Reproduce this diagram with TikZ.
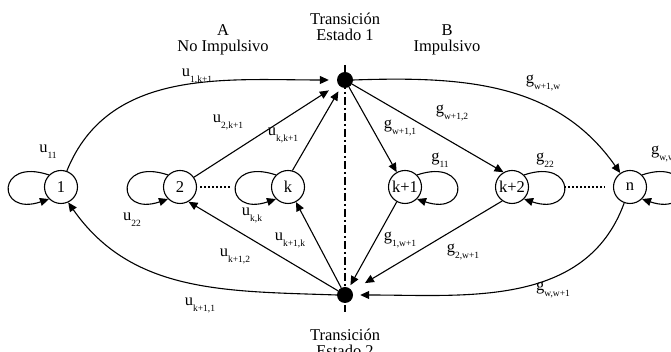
\documentclass[tikz,border=0pt]{standalone}
\usepackage{fontspec}
\setmainfont{Liberation Serif}
\usetikzlibrary{arrows.meta}
\newcommand{\lbl}[2]{#1\raisebox{-6pt}{\fontsize{9.5}{10}\selectfont #2}}

\begin{document}
\begin{tikzpicture}[x=1pt,y=1pt,font=\fontsize{16.5}{16}\selectfont,
  st/.style={draw,circle,line width=1.1pt,minimum size=33pt,inner sep=0pt},
  dot/.style={fill,circle,minimum size=16pt,inner sep=0pt},
  arr/.style={-{Triangle[length=9pt,width=8pt]},line width=1.1pt},
  lab/.style={inner sep=0pt}]
\useasboundingbox (0,0) rectangle (671,352);
% headings
\node[align=center] (h1) at (345,325) {Transición\\Estado 1};
\node[align=center] (ha) at (223,312) {A\\No Impulsivo};
\node[align=center] (hb) at (447,312) {B\\Impulsivo};
\node[align=center] (h2) at (345,9) {Transición\\Estado 2};
% axis
\coordinate (axtop) at (345,287);
\coordinate (axbot) at (345,40);
\draw[line width=1.1pt,dash pattern=on 8pt off 3pt on 2pt off 3pt] (axtop) -- (axbot);
% states
\node[st] (n1) at (61,165) {1};
\node[st] (n2) at (180,165) {2};
\node[st] (nk) at (288,165) {k};
\node[st] (nk1) at (405,165) {k+1};
\node[st] (nk2) at (512,165) {k+2};
\node[st] (nn) at (630,165) {n};
\node[dot] (t1) at (345,272) {};
\node[dot] (t2) at (345,57) {};
\draw[line width=1.1pt,dash pattern=on 2pt off 2pt,shorten <=3pt,shorten >=41pt] (n2.east) -- (nk.west);
\draw[line width=1.1pt,dash pattern=on 2pt off 2pt,shorten <=35pt,shorten >=8pt] (nk2.east) -- (nn.west);
% self loops
\draw[arr] (n1.135) .. controls +(-53,18) and +(-53,-18) .. (n1.225);
\draw[arr] (n2.135) .. controls +(-53,18) and +(-53,-18) .. (n2.225);
\draw[arr] (nk.135) .. controls +(-53,18) and +(-53,-18) .. (nk.225);
\draw[arr] (nk1.45) .. controls +(53,18) and +(53,-18) .. (nk1.-45);
\draw[arr] (nk2.45) .. controls +(53,18) and +(53,-18) .. (nk2.-45);
\draw[arr] (nn.45) .. controls +(53,18) and +(53,-18) .. (nn.-45);
\node[lab] (l11) at (48,200) {\lbl{u}{11}};
\node[lab] (l22) at (132,132) {\lbl{u}{22}};
\node[lab] (lkk) at (252,137) {\lbl{u}{k,k}};
\node[lab] (g11) at (440,192) {\lbl{g}{11}};
\node[lab] (g22) at (545,192) {\lbl{g}{22}};
\node[lab,anchor=west] (gww) at (651,198) {\lbl{g}{w,w}};
% A -> transicion 1
\draw[arr,shorten >=8pt] (n1.70) to[out=68,in=180] (t1.west);
\draw[arr,shorten >=11pt] (n2.35) -- (t1);
\draw[arr,shorten >=5pt] (nk.75) -- (t1);
\node[lab] (l1k) at (197,276) {\lbl{u}{1,k+1}};
\node[lab] (l2k) at (228,230) {\lbl{u}{2,k+1}};
\node[lab] (lkk1) at (283,217) {\lbl{u}{k,k+1}};
% transicion 1 -> B
\draw[arr] (t1) -- (nk1);
\draw[arr] (t1) -- (nk2.120);
\draw[arr] (t1.east) to[out=2,in=125] (nn.125);
\node[lab] (gw1) at (400,224) {\lbl{g}{w+1,1}};
\node[lab] (gw2) at (452,239) {\lbl{g}{w+1,2}};
\node[lab] (gww1) at (543,269) {\lbl{g}{w+1,w}};
% B -> transicion 2
\draw[arr,shorten >=3pt] (nk1) -- (t2);
\draw[arr,shorten >=15pt] (nk2.235) -- (t2);
\draw[arr,shorten >=7pt] (nn.250) to[out=250,in=0] (t2.east);
\node[lab] (g1w) at (400,112) {\lbl{g}{1,w+1}};
\node[lab] (g2w) at (463,100) {\lbl{g}{2,w+1}};
\node[lab] (gwx) at (553,62) {\lbl{g}{w,w+1}};
% transicion 2 -> A
\draw[arr] (t2) -- (nk);
\draw[arr] (t2) -- (n2.-60);
\draw[arr] (t2.west) to[out=178,in=-55] (n1.-65);
\node[lab] (lk1k) at (290,112) {\lbl{u}{k+1,k}};
\node[lab] (lk12) at (235,96) {\lbl{u}{k+1,2}};
\node[lab] (lk11) at (200,47) {\lbl{u}{k+1,1}};
\end{tikzpicture}
\end{document}
